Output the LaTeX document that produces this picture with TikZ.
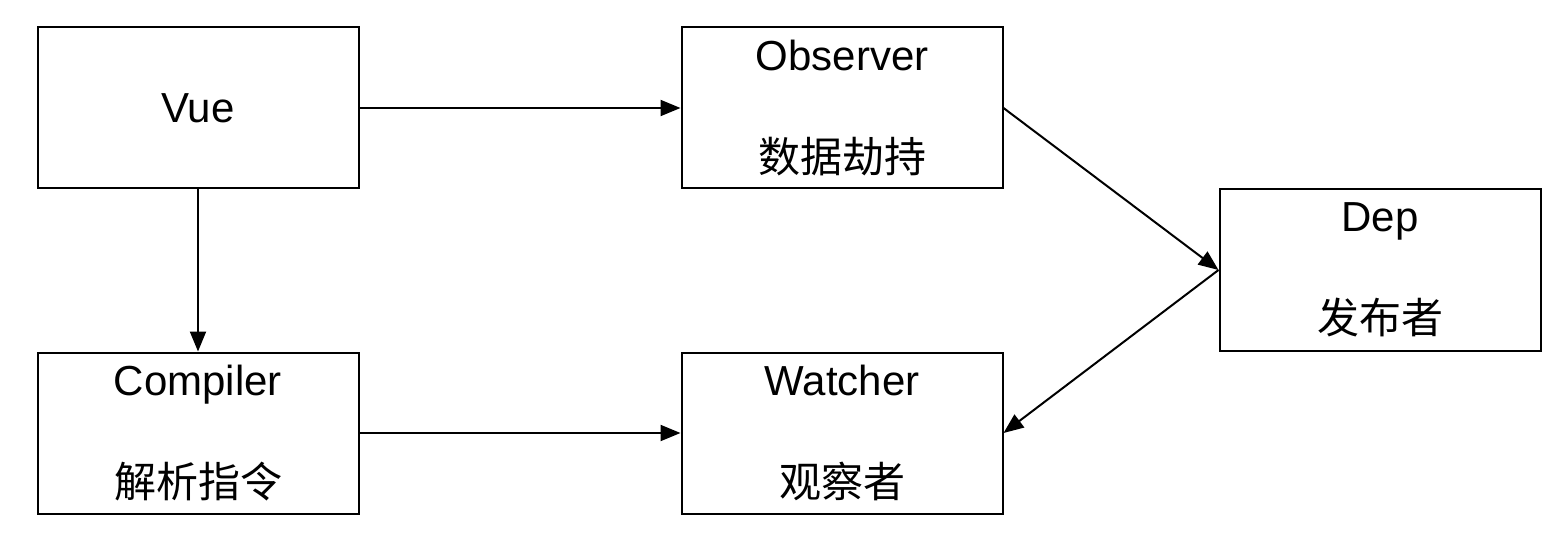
\documentclass[tikz,border=0pt]{standalone}
\usepackage{fontspec}
\setmainfont{Liberation Sans}
\newfontfamily\cjk{Noto Sans CJK SC}
\usetikzlibrary{positioning,arrows.meta}

\tikzset{
    box/.style={draw, line width=2pt, minimum width=321pt, minimum height=161pt,
        align=center, font=\fontsize{42}{48}\selectfont, inner sep=0pt},
    link/.style={line width=2pt, -{Triangle[length=20pt, width=16pt]}}
}

\begin{document}
\begin{tikzpicture}[x=1pt, y=1pt]
    \useasboundingbox (0,0) rectangle (1562,-556);

    % top row
    \node[box] (vue) at (198,-108) {Vue};
    \node[box, right=321pt of vue] (observer) {Observer\\[54pt]{\cjk 数据劫持}};

    % bottom row
    \node[box, below=162pt of vue] (compiler) {Compiler\\[54pt]{\cjk 解析指令}};
    \node[box, right=321pt of compiler] (watcher) {Watcher\\[54pt]{\cjk 观察者}};

    % right
    \node[box] (dep) at (1380,-270) {Dep\\[54pt]{\cjk 发布者}};

    % connectors
    \draw[link] (vue) -- (observer);
    \draw[link] (vue) -- (compiler);
    \draw[link] (compiler) -- (watcher);
    \draw[link] (observer.east) -- (dep.west);
    \draw[link] (dep.west) -- (watcher.east);
\end{tikzpicture}
\end{document}
